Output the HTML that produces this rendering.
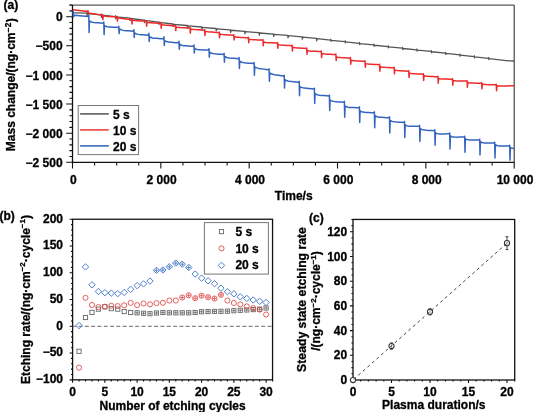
<!DOCTYPE html>
<html><head><meta charset="utf-8"><style>
html,body{margin:0;padding:0;background:#fff;}
body{width:533px;height:412px;overflow:hidden;font-family:"Liberation Sans",sans-serif;}
svg{display:block;filter:blur(0.4px);}
text{stroke:#000;stroke-width:0.3px;}
</style></head><body>
<svg width="533" height="412" viewBox="0 0 533 412">
<rect width="533" height="412" fill="#fff"/>
<path d="M69.5 5.05H514.2" fill="none" stroke="#5a5a5a" stroke-width="1.2"/>
<path d="M514.2 5.05V162.3" fill="none" stroke="#444" stroke-width="1.2"/>
<path d="M72.5 5.05V162.3H514.2" fill="none" stroke="#111" stroke-width="1.3"/>
<path d="M66.2 162.3H72.5M69.4 156.48H72.5M69.4 150.65H72.5M69.4 144.83H72.5M69.4 139H72.5M66.2 133.18H72.5M69.4 127.36H72.5M69.4 121.53H72.5M69.4 115.71H72.5M69.4 109.88H72.5M66.2 104.06H72.5M69.4 98.24H72.5M69.4 92.41H72.5M69.4 86.59H72.5M69.4 80.76H72.5M66.2 74.94H72.5M69.4 69.12H72.5M69.4 63.29H72.5M69.4 57.47H72.5M69.4 51.64H72.5M66.2 45.82H72.5M69.4 40H72.5M69.4 34.17H72.5M69.4 28.35H72.5M69.4 22.52H72.5M66.2 16.7H72.5M69.4 10.88H72.5M69.4 5.05H72.5M72.5 162.3V168.4M94.59 162.3V165.4M116.67 162.3V165.4M138.75 162.3V165.4M160.84 162.3V168.4M182.93 162.3V165.4M205.01 162.3V165.4M227.1 162.3V165.4M249.18 162.3V168.4M271.26 162.3V165.4M293.35 162.3V165.4M315.44 162.3V165.4M337.52 162.3V168.4M359.61 162.3V165.4M381.69 162.3V165.4M403.78 162.3V165.4M425.86 162.3V168.4M447.95 162.3V165.4M470.03 162.3V165.4M492.12 162.3V165.4M514.2 162.3V168.4" stroke="#111" stroke-width="1.1"/>
<text x="62.6" y="166.9" text-anchor="end" font-family="Liberation Sans, sans-serif" font-weight="bold" font-size="12">−2 500</text>
<text x="62.6" y="137.78" text-anchor="end" font-family="Liberation Sans, sans-serif" font-weight="bold" font-size="12">−2 000</text>
<text x="62.6" y="108.66" text-anchor="end" font-family="Liberation Sans, sans-serif" font-weight="bold" font-size="12">−1 500</text>
<text x="62.6" y="79.54" text-anchor="end" font-family="Liberation Sans, sans-serif" font-weight="bold" font-size="12">−1 000</text>
<text x="62.6" y="50.42" text-anchor="end" font-family="Liberation Sans, sans-serif" font-weight="bold" font-size="12">−500</text>
<text x="62.6" y="21.3" text-anchor="end" font-family="Liberation Sans, sans-serif" font-weight="bold" font-size="12">0</text>
<text x="73.3" y="184.2" text-anchor="middle" font-family="Liberation Sans, sans-serif" font-weight="bold" font-size="12">0</text>
<text x="161.64" y="184.2" text-anchor="middle" font-family="Liberation Sans, sans-serif" font-weight="bold" font-size="12">2 000</text>
<text x="249.98" y="184.2" text-anchor="middle" font-family="Liberation Sans, sans-serif" font-weight="bold" font-size="12">4 000</text>
<text x="338.32" y="184.2" text-anchor="middle" font-family="Liberation Sans, sans-serif" font-weight="bold" font-size="12">6 000</text>
<text x="426.66" y="184.2" text-anchor="middle" font-family="Liberation Sans, sans-serif" font-weight="bold" font-size="12">8 000</text>
<text x="515" y="184.2" text-anchor="middle" font-family="Liberation Sans, sans-serif" font-weight="bold" font-size="12">10 000</text>
<text x="293.7" y="200" text-anchor="middle" font-family="Liberation Sans, sans-serif" font-weight="bold" font-size="12">Time/s</text>
<text transform="translate(15.2 151.2) rotate(-90)" font-family="Liberation Sans, sans-serif" font-weight="bold" font-size="12">Mass change/(ng·cm<tspan font-size="8.3" dx="0.3" dy="-4.5">−2</tspan><tspan dx="0.5" dy="4.5">)</tspan></text>
<text x="3.6" y="9" font-family="Liberation Sans, sans-serif" font-weight="bold" font-size="12">(a)</text>
<path d="M72.5 12.9L86.5 13.2L86.9 12.4L87.1 15.6L87.5 13.5L100.85 14.86L101.25 14.06L101.45 17.26L101.85 15.16L115.2 16.53L115.6 15.73L115.8 18.93L116.2 16.83L129.55 18.19L129.95 18.09L130.15 20.59L130.55 18.49L143.9 20.13L144.3 20.03L144.5 22.53L144.9 20.43L158.25 22.06L158.65 21.96L158.85 24.46L159.25 22.36L172.6 24L173 23.9L173.2 26.4L173.6 24.3L186.95 25.49L187.35 25.39L187.55 27.89L187.95 25.79L201.3 26.98L201.7 26.88L201.9 29.38L202.3 27.28L215.65 28.48L216.05 28.38L216.25 30.88L216.65 28.78L230 29.97L230.4 29.87L230.6 32.37L231 30.27L244.35 31.33L244.75 31.23L244.95 33.73L245.35 31.63L258.7 32.7L259.1 32.6L259.3 35.1L259.7 33L273.05 34.06L273.45 33.96L273.65 36.46L274.05 34.36L287.4 35.42L287.8 35.32L288 37.82L288.4 35.72L301.75 36.79L302.15 36.69L302.35 39.19L302.75 37.09L316.1 38.41L316.5 38.31L316.7 40.81L317.1 38.71L330.45 40.04L330.85 39.24L331.05 41.34L331.45 40.34L344.8 41.67L345.2 40.87L345.4 42.97L345.8 41.97L359.15 43.3L359.55 42.5L359.75 44.6L360.15 43.6L373.5 44.93L373.9 44.13L374.1 46.23L374.5 45.23L387.85 46.57L388.25 45.77L388.45 47.87L388.85 46.87L402.2 48.2L402.6 47.4L402.8 49.5L403.2 48.5L416.55 49.83L416.95 49.03L417.15 51.13L417.55 50.13L430.9 51.47L431.3 50.67L431.5 52.77L431.9 51.77L445.25 53.17L445.65 52.37L445.85 54.47L446.25 53.47L459.6 54.88L460 54.08L460.2 56.18L460.6 55.18L473.95 56.58L474.35 55.78L474.55 57.88L474.95 56.88L488.3 58.29L488.7 57.49L488.9 59.59L489.3 58.59L500 59.9Q507 60.9 514 61" fill="none" stroke="#555" stroke-width="1.3" stroke-linejoin="round"/>
<path d="M72.8 9.7L87.6 11.5L88 10.6L88.3 13.8L88.7 12.8L89.18 12.99L90.17 13.29L91.51 13.57L93.15 13.83L95.05 14.09L97.21 14.37L99.59 14.67L102.18 15L102.18 15L102.58 14.5L102.88 19.6L103.28 15.7L103.76 15.86L104.75 16.09L106.09 16.28L107.73 16.43L109.63 16.57L111.79 16.7L114.17 16.85L116.76 17L116.76 17L117.16 16.5L117.46 21.2L117.86 17.7L118.34 17.87L119.33 18.13L120.67 18.36L122.31 18.56L124.21 18.76L126.37 18.95L128.75 19.17L131.34 19.4L131.34 19.4L131.74 18.9L132.04 23.9L132.44 20L132.92 20.16L133.91 20.38L135.25 20.56L136.89 20.7L138.79 20.82L140.95 20.94L143.33 21.06L145.92 21.2L145.92 21.2L146.32 20.7L146.62 26.2L147.02 22.1L147.5 22.26L148.49 22.49L149.83 22.68L151.47 22.83L153.37 22.97L155.53 23.1L157.91 23.25L160.5 23.4L160.5 23.4L160.9 22.9L161.2 28.3L161.6 24.3L162.08 24.47L163.07 24.72L164.41 24.94L166.05 25.13L167.95 25.31L170.11 25.49L172.49 25.69L175.08 25.9L175.08 25.9L175.48 25.4L175.78 30.6L176.18 26.9L176.66 27.05L177.65 27.27L178.99 27.44L180.63 27.57L182.53 27.67L184.69 27.78L187.07 27.88L189.66 28L189.66 28L190.06 27.5L190.36 33.2L190.76 28.8L191.24 28.96L192.23 29.2L193.57 29.4L195.21 29.57L197.11 29.71L199.27 29.87L201.65 30.03L204.24 30.2L204.24 30.2L204.64 29.7L204.94 35.5L205.34 31.2L205.82 31.36L206.81 31.6L208.15 31.8L209.79 31.97L211.69 32.11L213.85 32.27L216.23 32.43L218.82 32.6L218.82 32.6L219.22 32.1L219.52 37.8L219.92 33.9L220.4 34.06L221.39 34.29L222.73 34.48L224.37 34.63L226.27 34.77L228.43 34.9L230.81 35.05L233.4 35.2L233.4 35.2L233.8 34.7L234.1 40L234.5 36.7L234.98 36.85L235.97 37.07L237.31 37.24L238.95 37.37L240.85 37.47L243.01 37.58L245.39 37.68L247.98 37.8L247.98 37.8L248.38 37.3L248.68 42.7L249.08 39.1L249.56 39.25L250.55 39.45L251.89 39.62L253.53 39.73L255.43 39.83L257.59 39.91L259.97 40L262.56 40.1L262.56 40.1L262.96 39.6L263.26 45.7L263.66 42L264.14 42.15L265.13 42.35L266.47 42.52L268.11 42.63L270.01 42.73L272.17 42.81L274.55 42.9L277.14 43L277.14 43L277.54 42.5L277.84 48.3L278.24 44.5L278.72 44.66L279.71 44.88L281.05 45.06L282.69 45.2L284.59 45.32L286.75 45.44L289.13 45.56L291.72 45.7L291.72 45.7L292.12 45.2L292.42 51L292.82 47.2L293.3 47.36L294.29 47.59L295.63 47.78L297.27 47.93L299.17 48.07L301.33 48.2L303.71 48.35L306.3 48.5L306.3 48.5L306.7 48L307 54.2L307.4 50.5L307.88 50.65L308.87 50.85L310.21 51.02L311.85 51.13L313.75 51.23L315.91 51.31L318.29 51.4L320.88 51.5L320.88 51.5L321.28 51L321.58 57.5L321.98 53.5L322.46 53.65L323.45 53.85L324.79 54.02L326.43 54.13L328.33 54.23L330.49 54.31L332.87 54.4L335.46 54.5L335.46 54.5L335.86 54L336.16 60.5L336.56 56.9L337.04 57.05L338.03 57.27L339.37 57.44L341.01 57.57L342.91 57.67L345.07 57.78L347.45 57.88L350.04 58L350.04 58L350.44 57.5L350.74 64.3L351.14 60.2L351.62 60.35L352.61 60.57L353.95 60.74L355.59 60.87L357.49 60.97L359.65 61.08L362.03 61.18L364.62 61.3L364.62 61.3L365.02 60.8L365.32 67.3L365.72 63.5L366.2 63.66L367.19 63.88L368.53 64.06L370.17 64.2L372.07 64.32L374.23 64.44L376.61 64.56L379.2 64.7L379.2 64.7L379.6 64.2L379.9 71.1L380.3 66.7L380.78 66.85L381.77 67.07L383.11 67.24L384.75 67.37L386.65 67.47L388.81 67.58L391.19 67.68L393.78 67.8L393.78 67.8L394.18 67.3L394.48 73.8L394.88 70L395.36 70.16L396.35 70.38L397.69 70.56L399.33 70.7L401.23 70.82L403.39 70.94L405.77 71.06L408.36 71.2L408.36 71.2L408.76 70.7L409.06 77.5L409.46 73L409.94 73.16L410.93 73.38L412.27 73.56L413.91 73.7L415.81 73.82L417.97 73.94L420.35 74.06L422.94 74.2L422.94 74.2L423.34 73.7L423.64 80.5L424.04 75.7L424.52 75.85L425.51 76.07L426.85 76.24L428.49 76.37L430.39 76.47L432.55 76.58L434.93 76.68L437.52 76.8L437.52 76.8L437.92 76.3L438.22 83.2L438.62 78.4L439.1 78.54L440.09 78.73L441.43 78.88L443.07 78.97L444.97 79.03L447.13 79.09L449.51 79.14L452.1 79.2L452.1 79.2L452.5 78.7L452.8 85.2L453.2 80.4L453.68 80.54L454.67 80.72L456.01 80.86L457.65 80.93L459.55 80.98L461.71 81.02L464.09 81.06L466.68 81.1L466.68 81.1L467.08 80.6L467.38 87.3L467.78 82.4L468.26 82.54L469.25 82.74L470.59 82.9L472.23 83L474.13 83.08L476.29 83.15L478.67 83.22L481.26 83.3L481.26 83.3L481.66 82.8L481.96 88.8L482.36 84L482.84 84.14L483.83 84.33L485.17 84.48L486.81 84.57L488.71 84.63L490.87 84.69L493.25 84.74L495.84 84.8L495.84 84.8L496.24 84.3L496.54 90.8L496.94 85.8L497.55 85.94L498.8 86.08L500.49 86.12L502.57 86.09L504.98 86.01L507.71 85.92L510.72 85.82L514 85.7" fill="none" stroke="#ee2a2a" stroke-width="1.5" stroke-linejoin="round"/>
<path d="M73.2 10.2L73.4 17L74.3 15.3L88.4 16.6L88.8 15.06L89.1 32.5L89.5 20.8L90 21.21L91.01 21.76L92.39 22.18L94.09 22.45L96.05 22.65L98.27 22.83L100.73 23.01L103.4 23.2L103.4 23.2L103.8 22.01L104.1 34.6L104.5 25.4L105 25.8L106.01 26.32L107.39 26.7L109.09 26.92L111.05 27.06L113.27 27.17L115.73 27.28L118.4 27.4L118.4 27.4L118.8 26.21L119.1 33.6L119.5 28.7L120 29.12L121.02 29.69L122.41 30.12L124.12 30.42L126.1 30.64L128.34 30.85L130.81 31.07L133.5 31.3L133.5 31.3L133.9 29.76L134.2 37.5L134.6 32.7L135.1 33.12L136.11 33.69L137.49 34.12L139.19 34.42L141.15 34.64L143.37 34.85L145.83 35.07L148.5 35.3L148.5 35.3L148.9 33.34L149.2 41.5L149.6 36.6L150.1 37.01L151.12 37.55L152.51 37.94L154.22 38.19L156.2 38.35L158.44 38.5L160.91 38.65L163.6 38.8L163.6 38.8L164 36.7L164.3 45.5L164.7 40.5L165.2 40.91L166.21 41.45L167.59 41.86L169.29 42.12L171.25 42.3L173.47 42.46L175.93 42.63L178.6 42.8L178.6 42.8L179 41.19L179.3 49.2L179.7 44.1L180.2 44.5L181.21 45.04L182.59 45.44L184.29 45.68L186.25 45.85L188.47 46L190.93 46.15L193.6 46.3L193.6 46.3L194 44.9L194.3 53L194.7 48.3L195.2 48.69L196.21 49.19L197.59 49.53L199.29 49.72L201.25 49.82L203.47 49.88L205.93 49.94L208.6 50L208.6 50L209 48.74L209.3 57.2L209.7 52L210.2 52.42L211.22 52.99L212.61 53.42L214.32 53.72L216.3 53.94L218.54 54.15L221.01 54.37L223.7 54.6L223.7 54.6L224.1 53.34L224.4 62.3L224.8 56.3L225.3 56.71L226.31 57.26L227.69 57.68L229.39 57.95L231.35 58.15L233.57 58.33L236.03 58.51L238.7 58.7L238.7 58.7L239.1 57.58L239.4 68.5L239.8 61.1L240.3 61.51L241.31 62.06L242.69 62.48L244.39 62.75L246.35 62.95L248.57 63.13L251.03 63.31L253.7 63.5L253.7 63.5L254.1 62.59L254.4 75.2L254.8 66.6L255.3 67.04L256.31 67.65L257.69 68.15L259.39 68.51L261.35 68.83L263.57 69.13L266.03 69.45L268.7 69.8L268.7 69.8L269.1 68.89L269.4 81.3L269.8 72.7L270.3 73.15L271.32 73.78L272.71 74.29L274.42 74.68L276.4 75.02L278.64 75.36L281.11 75.71L283.8 76.1L283.8 76.1L284.2 75.33L284.5 88.1L284.9 79.6L285.4 80.02L286.41 80.59L287.79 81.02L289.49 81.32L291.45 81.54L293.67 81.75L296.13 81.97L298.8 82.2L298.8 82.2L299.2 81.36L299.5 95.7L299.9 86.4L300.41 86.82L301.43 87.39L302.84 87.83L304.55 88.12L306.55 88.34L308.8 88.55L311.29 88.77L314 89L314 89L314.4 88.16L314.7 103.4L315.1 93.5L315.6 93.91L316.61 94.48L317.99 94.9L319.69 95.18L321.65 95.4L323.87 95.59L326.33 95.79L329 96L329 96L329.4 95.16L329.7 110.4L330.1 99.9L330.6 100.31L331.61 100.86L332.99 101.28L334.69 101.55L336.65 101.75L338.87 101.93L341.33 102.11L344 102.3L344 102.3L344.4 101.39L344.7 117.3L345.1 105.9L345.6 106.29L346.61 106.81L347.99 107.17L349.69 107.39L351.65 107.51L353.87 107.61L356.33 107.7L359 107.8L359 107.8L359.4 106.89L359.7 122.5L360.1 110.8L360.6 111.2L361.61 111.72L362.99 112.1L364.69 112.32L366.65 112.46L368.87 112.57L371.33 112.68L374 112.8L374 112.8L374.4 111.89L374.7 127.8L375.1 115.6L375.6 116.01L376.62 116.55L378.01 116.94L379.72 117.19L381.7 117.35L383.94 117.5L386.41 117.65L389.1 117.8L389.1 117.8L389.5 116.89L389.8 133L390.2 120.3L390.7 120.7L391.71 121.23L393.09 121.62L394.79 121.85L396.75 122.01L398.97 122.14L401.43 122.26L404.1 122.4L404.1 122.4L404.5 121.42L404.8 137.4L405.2 124.8L405.7 125.18L406.72 125.67L408.11 125.99L409.82 126.15L411.8 126.22L414.04 126.26L416.51 126.28L419.2 126.3L419.2 126.3L419.6 125.39L419.9 141.5L420.3 128.5L420.81 128.91L421.83 129.45L423.24 129.84L424.95 130.09L426.95 130.26L429.2 130.4L431.69 130.55L434.4 130.7L434.4 130.7L434.8 129.72L435.1 145.2L435.5 132.7L436 133.06L437 133.52L438.37 133.81L440.05 133.92L442.01 133.93L444.21 133.9L446.65 133.86L449.3 133.8L449.3 133.8L449.7 132.89L450 149L450.4 135.9L450.9 136.26L451.91 136.72L453.29 137.01L454.99 137.12L456.95 137.14L459.17 137.1L461.63 137.06L464.3 137L464.3 137L464.7 136.16L465 152.3L465.4 138.7L465.9 139.07L466.91 139.55L468.29 139.85L469.99 139.99L471.95 140.03L474.17 140.03L476.63 140.02L479.3 140L479.3 140L479.7 139.16L480 155L480.4 141.6L480.9 141.98L481.91 142.46L483.29 142.77L484.99 142.92L486.95 142.98L489.17 142.99L491.63 143L494.3 143L494.3 143L494.7 142.16L495 158L495.4 144.6L495.9 144.98L496.91 145.46L498.29 145.77L499.99 145.92L501.95 145.98L504.17 145.99L506.63 146L509.3 146L509.3 146L509.7 145.16L510 160.3L510.4 147.5L510.53 147.6L510.79 147.77L511.15 147.95L511.59 148.12L512.1 148.25L512.67 148.34L513.31 148.39L514 148.4" fill="none" stroke="#3464be" stroke-width="1.5" stroke-linejoin="round"/>
<rect x="78.2" y="105.5" width="60.4" height="49.1" fill="#fff" stroke="#777" stroke-width="1"/>
<path d="M80.1 113.9H108.8" stroke="#707070" stroke-width="1.8"/>
<text x="113.1" y="118.5" font-family="Liberation Sans, sans-serif" font-weight="bold" font-size="12">5 s</text>
<path d="M80.1 129.9H108.8" stroke="#f05656" stroke-width="1.8"/>
<text x="113.1" y="134.5" font-family="Liberation Sans, sans-serif" font-weight="bold" font-size="12">10 s</text>
<path d="M80.1 145.9H108.8" stroke="#5079c0" stroke-width="1.8"/>
<text x="113.1" y="150.5" font-family="Liberation Sans, sans-serif" font-weight="bold" font-size="12">20 s</text>
<rect x="72.6" y="219.24" width="199.95" height="160.59" fill="none" stroke="#111" stroke-width="1.3"/>
<path d="M69.6 379.83H72.6M71 374.48H72.6M71 369.12H72.6M71 363.77H72.6M71 358.42H72.6M69.6 353.06H72.6M71 347.71H72.6M71 342.36H72.6M71 337.01H72.6M71 331.65H72.6M69.6 326.3H72.6M71 320.95H72.6M71 315.59H72.6M71 310.24H72.6M71 304.89H72.6M69.6 299.54H72.6M71 294.18H72.6M71 288.83H72.6M71 283.48H72.6M71 278.12H72.6M69.6 272.77H72.6M71 267.42H72.6M71 262.06H72.6M71 256.71H72.6M71 251.36H72.6M69.6 246H72.6M71 240.65H72.6M71 235.3H72.6M71 229.95H72.6M71 224.59H72.6M69.6 219.24H72.6M72.6 379.83V382.83M79.05 379.83V381.43M85.5 379.83V381.43M91.95 379.83V381.43M98.4 379.83V381.43M104.85 379.83V382.83M111.3 379.83V381.43M117.75 379.83V381.43M124.2 379.83V381.43M130.65 379.83V381.43M137.1 379.83V382.83M143.55 379.83V381.43M150 379.83V381.43M156.45 379.83V381.43M162.9 379.83V381.43M169.35 379.83V382.83M175.8 379.83V381.43M182.25 379.83V381.43M188.7 379.83V381.43M195.15 379.83V381.43M201.6 379.83V382.83M208.05 379.83V381.43M214.5 379.83V381.43M220.95 379.83V381.43M227.4 379.83V381.43M233.85 379.83V382.83M240.3 379.83V381.43M246.75 379.83V381.43M253.2 379.83V381.43M259.65 379.83V381.43M266.1 379.83V382.83M272.55 379.83V381.43" stroke="#111" stroke-width="1.1"/>
<text x="63.0" y="383.13" text-anchor="end" font-family="Liberation Sans, sans-serif" font-weight="bold" font-size="12">−100</text>
<text x="63.0" y="356.37" text-anchor="end" font-family="Liberation Sans, sans-serif" font-weight="bold" font-size="12">−50</text>
<text x="63.0" y="329.6" text-anchor="end" font-family="Liberation Sans, sans-serif" font-weight="bold" font-size="12">0</text>
<text x="63.0" y="302.84" text-anchor="end" font-family="Liberation Sans, sans-serif" font-weight="bold" font-size="12">50</text>
<text x="63.0" y="276.07" text-anchor="end" font-family="Liberation Sans, sans-serif" font-weight="bold" font-size="12">100</text>
<text x="63.0" y="249.31" text-anchor="end" font-family="Liberation Sans, sans-serif" font-weight="bold" font-size="12">150</text>
<text x="63.0" y="222.54" text-anchor="end" font-family="Liberation Sans, sans-serif" font-weight="bold" font-size="12">200</text>
<text x="72.6" y="395.5" text-anchor="middle" font-family="Liberation Sans, sans-serif" font-weight="bold" font-size="12">0</text>
<text x="104.85" y="395.5" text-anchor="middle" font-family="Liberation Sans, sans-serif" font-weight="bold" font-size="12">5</text>
<text x="137.1" y="395.5" text-anchor="middle" font-family="Liberation Sans, sans-serif" font-weight="bold" font-size="12">10</text>
<text x="169.35" y="395.5" text-anchor="middle" font-family="Liberation Sans, sans-serif" font-weight="bold" font-size="12">15</text>
<text x="201.6" y="395.5" text-anchor="middle" font-family="Liberation Sans, sans-serif" font-weight="bold" font-size="12">20</text>
<text x="233.85" y="395.5" text-anchor="middle" font-family="Liberation Sans, sans-serif" font-weight="bold" font-size="12">25</text>
<text x="266.1" y="395.5" text-anchor="middle" font-family="Liberation Sans, sans-serif" font-weight="bold" font-size="12">30</text>
<text x="172.6" y="409.5" text-anchor="middle" font-family="Liberation Sans, sans-serif" font-weight="bold" font-size="12">Number of etching cycles</text>
<text transform="translate(29.5 299.5) rotate(-90)" text-anchor="middle" font-family="Liberation Sans, sans-serif" font-weight="bold" font-size="12">Etching rate/(ng·cm<tspan font-size="8" dy="-4.5">−2</tspan><tspan dy="4.5">·cycle</tspan><tspan font-size="8" dy="-4.5">−1</tspan><tspan dy="4.5">)</tspan></text>
<text x="-0.6" y="219.8" font-family="Liberation Sans, sans-serif" font-weight="bold" font-size="12">(b)</text>
<path d="M72.6 326.3H272.55" stroke="#666" stroke-width="1" stroke-dasharray="3.9 2.4" stroke-dashoffset="0.3"/>
<rect x="76.95" y="349.2" width="4.2" height="4.2" fill="none" stroke="#676767" stroke-width="0.9"/>
<rect x="83.4" y="315.42" width="4.2" height="4.2" fill="none" stroke="#676767" stroke-width="0.9"/>
<rect x="89.85" y="310.28" width="4.2" height="4.2" fill="none" stroke="#676767" stroke-width="0.9"/>
<rect x="96.3" y="307.02" width="4.2" height="4.2" fill="none" stroke="#676767" stroke-width="0.9"/>
<rect x="102.75" y="304.61" width="4.2" height="4.2" fill="none" stroke="#676767" stroke-width="0.9"/>
<rect x="109.2" y="306.54" width="4.2" height="4.2" fill="none" stroke="#676767" stroke-width="0.9"/>
<rect x="115.65" y="307.02" width="4.2" height="4.2" fill="none" stroke="#676767" stroke-width="0.9"/>
<rect x="122.1" y="309.48" width="4.2" height="4.2" fill="none" stroke="#676767" stroke-width="0.9"/>
<rect x="128.55" y="310.39" width="4.2" height="4.2" fill="none" stroke="#676767" stroke-width="0.9"/>
<rect x="135" y="310.71" width="4.2" height="4.2" fill="none" stroke="#676767" stroke-width="0.9"/>
<path d="M135.5 312.81H138.7M137.1 311.21V314.41" stroke="#676767" stroke-width="0.85"/>
<rect x="141.45" y="311.19" width="4.2" height="4.2" fill="none" stroke="#676767" stroke-width="0.9"/>
<path d="M141.95 313.29H145.15M143.55 311.69V314.89" stroke="#676767" stroke-width="0.85"/>
<rect x="147.9" y="311.62" width="4.2" height="4.2" fill="none" stroke="#676767" stroke-width="0.9"/>
<path d="M148.4 313.72H151.6M150 312.12V315.32" stroke="#676767" stroke-width="0.85"/>
<rect x="154.35" y="310.92" width="4.2" height="4.2" fill="none" stroke="#676767" stroke-width="0.9"/>
<path d="M154.85 313.02H158.05M156.45 311.42V314.62" stroke="#676767" stroke-width="0.85"/>
<rect x="160.8" y="310.39" width="4.2" height="4.2" fill="none" stroke="#676767" stroke-width="0.9"/>
<path d="M161.3 312.49H164.5M162.9 310.89V314.09" stroke="#676767" stroke-width="0.85"/>
<rect x="167.25" y="310.71" width="4.2" height="4.2" fill="none" stroke="#676767" stroke-width="0.9"/>
<path d="M167.75 312.81H170.95M169.35 311.21V314.41" stroke="#676767" stroke-width="0.85"/>
<rect x="173.7" y="310.71" width="4.2" height="4.2" fill="none" stroke="#676767" stroke-width="0.9"/>
<path d="M174.2 312.81H177.4M175.8 311.21V314.41" stroke="#676767" stroke-width="0.85"/>
<rect x="180.15" y="310.71" width="4.2" height="4.2" fill="none" stroke="#676767" stroke-width="0.9"/>
<path d="M180.65 312.81H183.85M182.25 311.21V314.41" stroke="#676767" stroke-width="0.85"/>
<rect x="186.6" y="310.71" width="4.2" height="4.2" fill="none" stroke="#676767" stroke-width="0.9"/>
<path d="M187.1 312.81H190.3M188.7 311.21V314.41" stroke="#676767" stroke-width="0.85"/>
<rect x="193.05" y="310.39" width="4.2" height="4.2" fill="none" stroke="#676767" stroke-width="0.9"/>
<path d="M193.55 312.49H196.75M195.15 310.89V314.09" stroke="#676767" stroke-width="0.85"/>
<rect x="199.5" y="309.64" width="4.2" height="4.2" fill="none" stroke="#676767" stroke-width="0.9"/>
<path d="M200 311.74H203.2M201.6 310.14V313.34" stroke="#676767" stroke-width="0.85"/>
<rect x="205.95" y="309.43" width="4.2" height="4.2" fill="none" stroke="#676767" stroke-width="0.9"/>
<path d="M206.45 311.53H209.65M208.05 309.93V313.13" stroke="#676767" stroke-width="0.85"/>
<rect x="212.4" y="309.32" width="4.2" height="4.2" fill="none" stroke="#676767" stroke-width="0.9"/>
<path d="M212.9 311.42H216.1M214.5 309.82V313.02" stroke="#676767" stroke-width="0.85"/>
<rect x="218.85" y="309.21" width="4.2" height="4.2" fill="none" stroke="#676767" stroke-width="0.9"/>
<path d="M219.35 311.31H222.55M220.95 309.71V312.91" stroke="#676767" stroke-width="0.85"/>
<rect x="225.3" y="309.1" width="4.2" height="4.2" fill="none" stroke="#676767" stroke-width="0.9"/>
<path d="M225.8 311.2H229M227.4 309.6V312.8" stroke="#676767" stroke-width="0.85"/>
<rect x="231.75" y="308.62" width="4.2" height="4.2" fill="none" stroke="#676767" stroke-width="0.9"/>
<path d="M232.25 310.72H235.45M233.85 309.12V312.32" stroke="#676767" stroke-width="0.85"/>
<rect x="238.2" y="308.19" width="4.2" height="4.2" fill="none" stroke="#676767" stroke-width="0.9"/>
<path d="M238.7 310.29H241.9M240.3 308.69V311.89" stroke="#676767" stroke-width="0.85"/>
<rect x="244.65" y="307.87" width="4.2" height="4.2" fill="none" stroke="#676767" stroke-width="0.9"/>
<path d="M245.15 309.97H248.35M246.75 308.37V311.57" stroke="#676767" stroke-width="0.85"/>
<rect x="251.1" y="307.5" width="4.2" height="4.2" fill="none" stroke="#676767" stroke-width="0.9"/>
<path d="M251.6 309.6H254.8M253.2 308V311.2" stroke="#676767" stroke-width="0.85"/>
<rect x="257.55" y="307.12" width="4.2" height="4.2" fill="none" stroke="#676767" stroke-width="0.9"/>
<path d="M258.05 309.22H261.25M259.65 307.62V310.82" stroke="#676767" stroke-width="0.85"/>
<rect x="264" y="305.89" width="4.2" height="4.2" fill="none" stroke="#676767" stroke-width="0.9"/>
<path d="M264.5 307.99H267.7M266.1 306.39V309.59" stroke="#676767" stroke-width="0.85"/>
<circle cx="79.05" cy="367.68" r="2.55" fill="none" stroke="#e24e4e" stroke-width="0.9"/>
<circle cx="85.5" cy="297.82" r="2.55" fill="none" stroke="#e24e4e" stroke-width="0.9"/>
<circle cx="91.95" cy="305" r="2.55" fill="none" stroke="#e24e4e" stroke-width="0.9"/>
<circle cx="98.4" cy="307.03" r="2.55" fill="none" stroke="#e24e4e" stroke-width="0.9"/>
<circle cx="104.85" cy="306.71" r="2.55" fill="none" stroke="#e24e4e" stroke-width="0.9"/>
<circle cx="111.3" cy="305.8" r="2.55" fill="none" stroke="#e24e4e" stroke-width="0.9"/>
<circle cx="117.75" cy="306.12" r="2.55" fill="none" stroke="#e24e4e" stroke-width="0.9"/>
<circle cx="124.2" cy="305.32" r="2.55" fill="none" stroke="#e24e4e" stroke-width="0.9"/>
<circle cx="130.65" cy="302.91" r="2.55" fill="none" stroke="#e24e4e" stroke-width="0.9"/>
<circle cx="137.1" cy="305.1" r="2.55" fill="none" stroke="#e24e4e" stroke-width="0.9"/>
<circle cx="143.55" cy="303.5" r="2.55" fill="none" stroke="#e24e4e" stroke-width="0.9"/>
<circle cx="150" cy="304.3" r="2.55" fill="none" stroke="#e24e4e" stroke-width="0.9"/>
<circle cx="156.45" cy="303.12" r="2.55" fill="none" stroke="#e24e4e" stroke-width="0.9"/>
<circle cx="162.9" cy="302.8" r="2.55" fill="none" stroke="#e24e4e" stroke-width="0.9"/>
<circle cx="169.35" cy="300.5" r="2.55" fill="none" stroke="#e24e4e" stroke-width="0.9"/>
<circle cx="175.8" cy="300.5" r="2.55" fill="none" stroke="#e24e4e" stroke-width="0.9"/>
<circle cx="182.25" cy="297.5" r="2.55" fill="none" stroke="#e24e4e" stroke-width="0.9"/>
<path d="M180.25 297.5H184.25M182.25 295.5V299.5" stroke="#e24e4e" stroke-width="0.85"/>
<circle cx="188.7" cy="295.31" r="2.55" fill="none" stroke="#e24e4e" stroke-width="0.9"/>
<path d="M186.7 295.31H190.7M188.7 293.31V297.31" stroke="#e24e4e" stroke-width="0.85"/>
<circle cx="195.15" cy="298.2" r="2.55" fill="none" stroke="#e24e4e" stroke-width="0.9"/>
<path d="M193.15 298.2H197.15M195.15 296.2V300.2" stroke="#e24e4e" stroke-width="0.85"/>
<circle cx="201.6" cy="295.68" r="2.55" fill="none" stroke="#e24e4e" stroke-width="0.9"/>
<path d="M199.6 295.68H203.6M201.6 293.68V297.68" stroke="#e24e4e" stroke-width="0.85"/>
<circle cx="208.05" cy="297.18" r="2.55" fill="none" stroke="#e24e4e" stroke-width="0.9"/>
<path d="M206.05 297.18H210.05M208.05 295.18V299.18" stroke="#e24e4e" stroke-width="0.85"/>
<circle cx="214.5" cy="298.57" r="2.55" fill="none" stroke="#e24e4e" stroke-width="0.9"/>
<path d="M212.5 298.57H216.5M214.5 296.57V300.57" stroke="#e24e4e" stroke-width="0.85"/>
<circle cx="220.95" cy="294.82" r="2.55" fill="none" stroke="#e24e4e" stroke-width="0.9"/>
<path d="M218.95 294.82H222.95M220.95 292.82V296.82" stroke="#e24e4e" stroke-width="0.85"/>
<circle cx="227.4" cy="300.5" r="2.55" fill="none" stroke="#e24e4e" stroke-width="0.9"/>
<circle cx="233.85" cy="303.01" r="2.55" fill="none" stroke="#e24e4e" stroke-width="0.9"/>
<circle cx="240.3" cy="304.3" r="2.55" fill="none" stroke="#e24e4e" stroke-width="0.9"/>
<circle cx="246.75" cy="306.39" r="2.55" fill="none" stroke="#e24e4e" stroke-width="0.9"/>
<circle cx="253.2" cy="308.21" r="2.55" fill="none" stroke="#e24e4e" stroke-width="0.9"/>
<circle cx="259.65" cy="309.6" r="2.55" fill="none" stroke="#e24e4e" stroke-width="0.9"/>
<circle cx="266.1" cy="314.52" r="2.55" fill="none" stroke="#e24e4e" stroke-width="0.9"/>
<path d="M79.05 322.3L82.25 325.5L79.05 328.7L75.85 325.5Z" fill="none" stroke="#4678c8" stroke-width="0.95"/>
<path d="M85.5 263.68L88.7 266.88L85.5 270.08L82.3 266.88Z" fill="none" stroke="#4678c8" stroke-width="0.95"/>
<path d="M91.95 281.61L95.15 284.81L91.95 288.01L88.75 284.81Z" fill="none" stroke="#4678c8" stroke-width="0.95"/>
<path d="M98.4 288.31L101.6 291.51L98.4 294.71L95.2 291.51Z" fill="none" stroke="#4678c8" stroke-width="0.95"/>
<path d="M104.85 289.48L108.05 292.68L104.85 295.88L101.65 292.68Z" fill="none" stroke="#4678c8" stroke-width="0.95"/>
<path d="M111.3 289.91L114.5 293.11L111.3 296.31L108.1 293.11Z" fill="none" stroke="#4678c8" stroke-width="0.95"/>
<path d="M117.75 290.45L120.95 293.65L117.75 296.85L114.55 293.65Z" fill="none" stroke="#4678c8" stroke-width="0.95"/>
<path d="M124.2 289.22L127.4 292.42L124.2 295.62L121 292.42Z" fill="none" stroke="#4678c8" stroke-width="0.95"/>
<path d="M130.65 286.16L133.85 289.36L130.65 292.56L127.45 289.36Z" fill="none" stroke="#4678c8" stroke-width="0.95"/>
<path d="M137.1 282.42L140.3 285.62L137.1 288.82L133.9 285.62Z" fill="none" stroke="#4678c8" stroke-width="0.95"/>
<path d="M143.55 280.7L146.75 283.9L143.55 287.1L140.35 283.9Z" fill="none" stroke="#4678c8" stroke-width="0.95"/>
<path d="M150 277.87L153.2 281.07L150 284.27L146.8 281.07Z" fill="none" stroke="#4678c8" stroke-width="0.95"/>
<path d="M156.45 267.16L159.65 270.36L156.45 273.56L153.25 270.36Z" fill="none" stroke="#4678c8" stroke-width="0.95"/>
<path d="M154.45 270.36H158.45M156.45 268.36V272.36" stroke="#4678c8" stroke-width="0.85"/>
<path d="M162.9 266.79L166.1 269.99L162.9 273.19L159.7 269.99Z" fill="none" stroke="#4678c8" stroke-width="0.95"/>
<path d="M160.9 269.99H164.9M162.9 267.99V271.99" stroke="#4678c8" stroke-width="0.85"/>
<path d="M169.35 263.57L172.55 266.77L169.35 269.97L166.15 266.77Z" fill="none" stroke="#4678c8" stroke-width="0.95"/>
<path d="M167.35 266.77H171.35M169.35 264.77V268.77" stroke="#4678c8" stroke-width="0.85"/>
<path d="M175.8 259.93L179 263.13L175.8 266.33L172.6 263.13Z" fill="none" stroke="#4678c8" stroke-width="0.95"/>
<path d="M173.8 263.13H177.8M175.8 261.13V265.13" stroke="#4678c8" stroke-width="0.85"/>
<path d="M182.25 261.01L185.45 264.21L182.25 267.41L179.05 264.21Z" fill="none" stroke="#4678c8" stroke-width="0.95"/>
<path d="M180.25 264.21H184.25M182.25 262.21V266.21" stroke="#4678c8" stroke-width="0.85"/>
<path d="M188.7 264.32L191.9 267.52L188.7 270.72L185.5 267.52Z" fill="none" stroke="#4678c8" stroke-width="0.95"/>
<path d="M186.7 267.52H190.7M188.7 265.52V269.52" stroke="#4678c8" stroke-width="0.85"/>
<path d="M195.15 270.85L198.35 274.05L195.15 277.25L191.95 274.05Z" fill="none" stroke="#4678c8" stroke-width="0.95"/>
<path d="M201.6 274.92L204.8 278.12L201.6 281.32L198.4 278.12Z" fill="none" stroke="#4678c8" stroke-width="0.95"/>
<path d="M208.05 277.6L211.25 280.8L208.05 284L204.85 280.8Z" fill="none" stroke="#4678c8" stroke-width="0.95"/>
<path d="M214.5 280.49L217.7 283.69L214.5 286.89L211.3 283.69Z" fill="none" stroke="#4678c8" stroke-width="0.95"/>
<path d="M220.95 284.99L224.15 288.19L220.95 291.39L217.75 288.19Z" fill="none" stroke="#4678c8" stroke-width="0.95"/>
<path d="M227.4 288.52L230.6 291.72L227.4 294.92L224.2 291.72Z" fill="none" stroke="#4678c8" stroke-width="0.95"/>
<path d="M233.85 290.61L237.05 293.81L233.85 297.01L230.65 293.81Z" fill="none" stroke="#4678c8" stroke-width="0.95"/>
<path d="M240.3 293.6L243.5 296.8L240.3 300L237.1 296.8Z" fill="none" stroke="#4678c8" stroke-width="0.95"/>
<path d="M246.75 295.21L249.95 298.41L246.75 301.61L243.55 298.41Z" fill="none" stroke="#4678c8" stroke-width="0.95"/>
<path d="M253.2 296.82L256.4 300.02L253.2 303.22L250 300.02Z" fill="none" stroke="#4678c8" stroke-width="0.95"/>
<path d="M259.65 298.1L262.85 301.3L259.65 304.5L256.45 301.3Z" fill="none" stroke="#4678c8" stroke-width="0.95"/>
<path d="M266.1 299.28L269.3 302.48L266.1 305.68L262.9 302.48Z" fill="none" stroke="#4678c8" stroke-width="0.95"/>
<rect x="204.4" y="222.6" width="64" height="51.5" fill="#fff" stroke="#777" stroke-width="1"/>
<rect x="219.4" y="229.5" width="4.2" height="4.2" fill="none" stroke="#676767" stroke-width="0.9"/>
<circle cx="221.5" cy="248.4" r="2.55" fill="none" stroke="#e24e4e" stroke-width="0.9"/>
<path d="M221.5 262.2L224.7 265.4L221.5 268.6L218.3 265.4Z" fill="none" stroke="#4678c8" stroke-width="0.95"/>
<text x="235.4" y="235.6" font-family="Liberation Sans, sans-serif" font-weight="bold" font-size="12">5 s</text>
<text x="235.4" y="252.5" font-family="Liberation Sans, sans-serif" font-weight="bold" font-size="12">10 s</text>
<text x="235.4" y="269.4" font-family="Liberation Sans, sans-serif" font-weight="bold" font-size="12">20 s</text>
<rect x="353" y="219.45" width="161.7" height="160.55" fill="none" stroke="#111" stroke-width="1.3"/>
<path d="M350 380H353M351.4 373.82H353M351.4 367.65H353M351.4 361.48H353M350 355.3H353M351.4 349.12H353M351.4 342.95H353M351.4 336.77H353M350 330.6H353M351.4 324.43H353M351.4 318.25H353M351.4 312.07H353M350 305.9H353M351.4 299.73H353M351.4 293.55H353M351.4 287.38H353M350 281.2H353M351.4 275.02H353M351.4 268.85H353M351.4 262.68H353M350 256.5H353M351.4 250.32H353M351.4 244.15H353M351.4 237.97H353M350 231.8H353M351.4 225.62H353M351.4 219.45H353M353 380V383M360.7 380V381.6M368.4 380V381.6M376.1 380V381.6M383.8 380V381.6M391.5 380V383M399.2 380V381.6M406.9 380V381.6M414.6 380V381.6M422.3 380V381.6M430 380V383M437.7 380V381.6M445.4 380V381.6M453.1 380V381.6M460.8 380V381.6M468.5 380V383M476.2 380V381.6M483.9 380V381.6M491.6 380V381.6M499.3 380V381.6M507 380V383M514.7 380V381.6" stroke="#111" stroke-width="1.1"/>
<text x="347.2" y="384.1" text-anchor="end" font-family="Liberation Sans, sans-serif" font-weight="bold" font-size="12">0</text>
<text x="347.2" y="359.4" text-anchor="end" font-family="Liberation Sans, sans-serif" font-weight="bold" font-size="12">20</text>
<text x="347.2" y="334.7" text-anchor="end" font-family="Liberation Sans, sans-serif" font-weight="bold" font-size="12">40</text>
<text x="347.2" y="310" text-anchor="end" font-family="Liberation Sans, sans-serif" font-weight="bold" font-size="12">60</text>
<text x="347.2" y="285.3" text-anchor="end" font-family="Liberation Sans, sans-serif" font-weight="bold" font-size="12">80</text>
<text x="347.2" y="260.6" text-anchor="end" font-family="Liberation Sans, sans-serif" font-weight="bold" font-size="12">100</text>
<text x="347.2" y="235.9" text-anchor="end" font-family="Liberation Sans, sans-serif" font-weight="bold" font-size="12">120</text>
<text x="353" y="395.8" text-anchor="middle" font-family="Liberation Sans, sans-serif" font-weight="bold" font-size="12">0</text>
<text x="391.5" y="395.8" text-anchor="middle" font-family="Liberation Sans, sans-serif" font-weight="bold" font-size="12">5</text>
<text x="430" y="395.8" text-anchor="middle" font-family="Liberation Sans, sans-serif" font-weight="bold" font-size="12">10</text>
<text x="468.5" y="395.8" text-anchor="middle" font-family="Liberation Sans, sans-serif" font-weight="bold" font-size="12">15</text>
<text x="507" y="395.8" text-anchor="middle" font-family="Liberation Sans, sans-serif" font-weight="bold" font-size="12">20</text>
<text x="433.8" y="409" text-anchor="middle" font-family="Liberation Sans, sans-serif" font-weight="bold" font-size="12">Plasma duration/s</text>
<text transform="translate(306.1 299.5) rotate(-90)" text-anchor="middle" font-family="Liberation Sans, sans-serif" font-weight="bold" font-size="12.24">Steady state etching rate</text>
<text transform="translate(320.2 301) rotate(-90)" text-anchor="middle" font-family="Liberation Sans, sans-serif" font-weight="bold" font-size="12">/(ng·cm<tspan font-size="8" dy="-4.5">−2</tspan><tspan dy="4.5">·cycle</tspan><tspan font-size="8" dy="-4.5">−1</tspan><tspan dy="4.5">)</tspan></text>
<text x="309" y="222" font-family="Liberation Sans, sans-serif" font-weight="bold" font-size="12">(c)</text>
<circle cx="353" cy="380" r="2.6" fill="#fff" stroke="#333" stroke-width="1.05"/>
<path d="M391.5 342.95V349.12M390 342.95H393M390 349.12H393" stroke="#333" stroke-width="0.9"/>
<circle cx="391.5" cy="346.04" r="2.6" fill="#fff" stroke="#333" stroke-width="1.05"/>
<path d="M391.5 344.64V347.44" stroke="#555" stroke-width="0.7"/>
<path d="M430 308.74V314.92M428.5 308.74H431.5M428.5 314.92H431.5" stroke="#333" stroke-width="0.9"/>
<circle cx="430" cy="311.83" r="2.6" fill="#fff" stroke="#333" stroke-width="1.05"/>
<path d="M430 310.43V313.23" stroke="#555" stroke-width="0.7"/>
<path d="M507 236.74V249.58M505.5 236.74H508.5M505.5 249.58H508.5" stroke="#333" stroke-width="0.9"/>
<circle cx="507" cy="243.16" r="2.6" fill="#fff" stroke="#333" stroke-width="1.05"/>
<path d="M507 241.76V244.56" stroke="#555" stroke-width="0.7"/>
<path d="M353 380L507 243.16" stroke="#444" stroke-width="1.0" stroke-dasharray="3 3.1" stroke-dashoffset="-1"/>
</svg>
</body></html>
